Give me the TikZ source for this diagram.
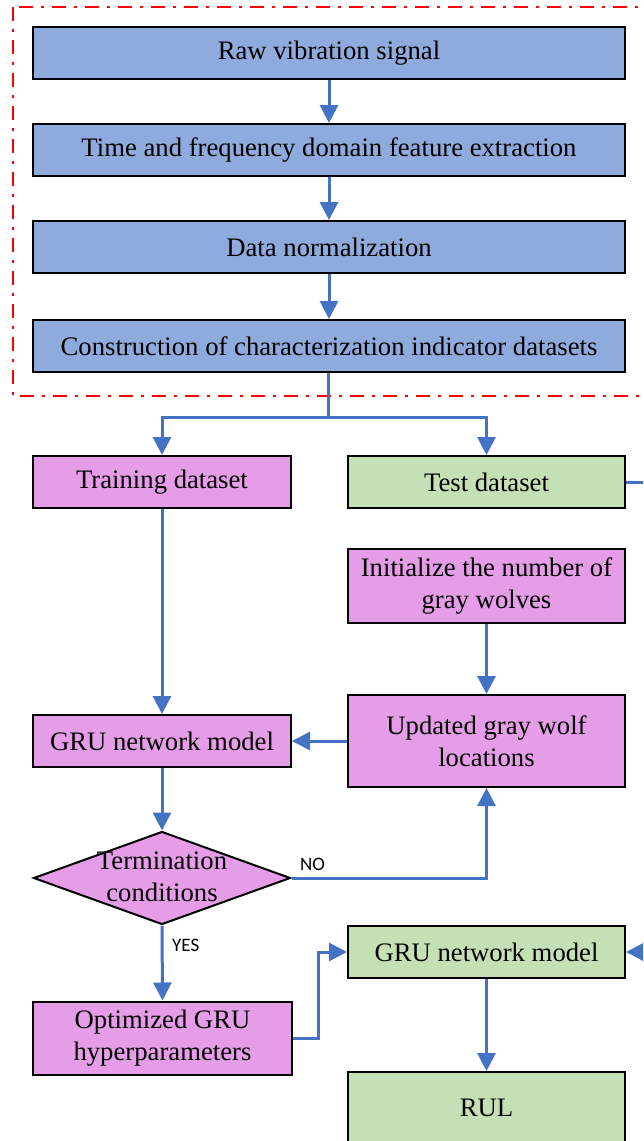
\documentclass[tikz,border=0pt]{standalone}
\usepackage{fontspec}
\setmainfont{Liberation Serif}
\newfontfamily\lblfont{Carlito}
\usetikzlibrary{arrows.meta,shapes.geometric,calc}
\definecolor{bluefill}{HTML}{8FAADC}
\definecolor{pinkfill}{HTML}{E69DE8}
\definecolor{greenfill}{HTML}{C5E0B4}
\definecolor{linkblue}{HTML}{4472C4}
\tikzset{
  box/.style={draw=black, line width=2pt, rectangle, inner sep=0pt, align=center,
    font=\fontsize{26.7}{31.5}\selectfont},
  bluebox/.style={box, fill=bluefill, minimum width=592pt, minimum height=52pt},
  pinkbox/.style={box, fill=pinkfill},
  greenbox/.style={box, fill=greenfill},
  link/.style={draw=linkblue, line width=3pt},
  arr/.style={link, -{Triangle[width=18pt,length=18pt]}},
  yn/.style={font=\lblfont\fontsize{19}{21}\selectfont, inner sep=0pt},
}
\begin{document}
\begin{tikzpicture}[x=1pt,y=-1pt]
\path[use as bounding box, clip] (0,0) rectangle (643,1141);
\fill[white] (0,0) rectangle (643,1141);
% dash-dot frame
\draw[red, line width=2pt, dash pattern=on 14pt off 8pt on 3pt off 8pt] (13,7) rectangle (690,396);
% preprocessing
\node[bluebox] (b1) at (329,53) {Raw vibration signal};
\node[bluebox] (b2) at (329,150) {Time and frequency domain feature extraction};
\node[bluebox] (b3) at (329,247) {Data normalization};
\node[bluebox] (b4) at (329,346) {Construction of characterization indicator datasets};
% datasets
\node[pinkbox, minimum width=258pt, minimum height=52pt] (train) at (162,482) {Training dataset};
\node[greenbox, minimum width=277pt, minimum height=52pt] (test) at (486.5,482) {Test dataset};
\node[pinkbox, minimum width=277pt, minimum height=74pt] (init) at (486.5,586) {Initialize the number of\\gray wolves};
\node[pinkbox, minimum width=277pt, minimum height=92pt] (upd) at (486.5,741) {Updated gray wolf\\locations};
\node[pinkbox, minimum width=258pt, minimum height=52pt] (gru1) at (162,741) {GRU network model};
\node[draw=black, line width=2pt, fill=pinkfill, diamond, aspect=2.76, minimum width=257pt, minimum height=93pt, inner sep=0pt] (dia) at (162,878) {};
\node[align=center, inner sep=0pt, font=\fontsize{26.7}{31.5}\selectfont] (diat) at (162,877) {Termination\\conditions};
\node[pinkbox, minimum width=259pt, minimum height=73pt] (opt) at (162.5,1038) {Optimized GRU\\hyperparameters};
\node[greenbox, minimum width=277pt, minimum height=52pt] (gru2) at (486.5,952) {GRU network model};
\node[greenbox, minimum width=277pt, minimum height=72pt] (rul) at (486.5,1108) {RUL};
% connectors
\draw[arr] (b1.south) -- (b2.north);
\draw[arr] (b2.south) -- (b3.north);
\draw[arr] (b3.south) -- (b4.north);
\coordinate (split) at (328,417);
\draw[link] (b4.south -| split) -- (split);
\draw[arr] (split) -| (train.north);
\draw[arr] (split) -| (test.north);
\draw[arr] (train.south) -- (gru1.north);
\draw[arr] (init.south) -- (upd.north);
\draw[arr] (upd.west) -- (gru1.east);
\draw[arr] (gru1.south) -- (dia.north);
\draw[arr] (dia.east) -| (upd.south);
\node[yn, anchor=west] (no) at (300,864) {NO};
\draw[arr] (dia.south) -- (opt.north);
\node[yn, anchor=west] (yes) at (172,945) {YES};
\coordinate (optbend) at (318,1038);
\draw[arr] (opt.east) -- (optbend) |- (gru2.west);
\coordinate (testbend) at (660,482);
\draw[arr] (test.east) -- (testbend) |- (gru2.east);
\draw[arr] (gru2.south) -- (rul.north);
\end{tikzpicture}
\end{document}
